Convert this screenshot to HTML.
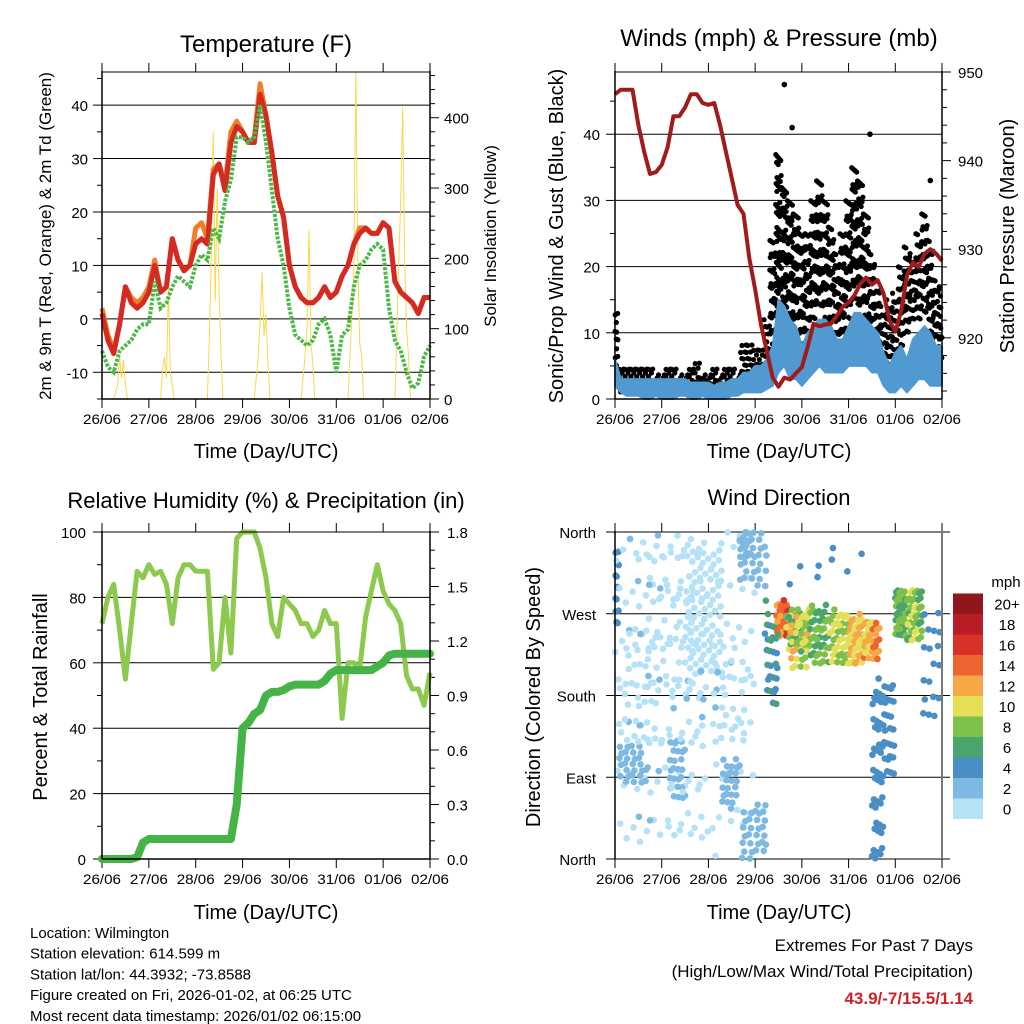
<!DOCTYPE html>
<html><head><meta charset="utf-8"><style>
html,body{margin:0;padding:0;background:#fff;}
svg{display:block;font-family:"Liberation Sans",sans-serif;}
</style></head><body>
<svg id="chart" width="1024" height="1024" viewBox="0 0 1024 1024" xmlns="http://www.w3.org/2000/svg"></svg>
<script>
// ---------- DATA (3-hourly samples, hours 0..168) ----------
const dayLabels = ["26/06","27/06","28/06","29/06","30/06","31/06","01/06","02/06"];
const tempRed = [1,-4,-6.5,-1,6,3,2,3, 5,10,5,6,15,11,9,10, 14,15,14,27,29,24,33,36, 35,33,33,42,38,31,23,19, 10,6,4,3,3,4,6,4, 5,8,10,14,16,17,16,16, 18,17,7,5,4,3,1,4,4];
const tempOrange = [2,-3,-6,-1,6,4,3,4, 6,11,5,6,15,11,9,10, 17,18,15,28,29,25,35,37, 35,33,34,44,38,31,23,19, 10,6,4,3,3,4,6,4, 5,8,10,14,17,17,16,16, 18,17,7,5,4,3,1,4,4];
const dewGreen = [-6,-9,-10,-6,-5,-4,-2,-1, -1,7,2,3,6,8,7,6, 10,12,11,17,15,22,26,34, 34,33,34,40,33,24,15,10, 2,-3,-4,-5,-4,-1,0,-3, -10,-3,-2,6,10,11,13,14, 13,2,-4,-6,-10,-13,-12,-7,-5];
const solarHours = [0,6,8,9,10,11,12,13, 30,31,32,33,34,35,36,37, 54,55,56,57,58,59,60,61,62, 78,80,81,82,83,84,85,86, 102,104,105,106,107,108,109, 126,128,129,130,131,132,133,134, 150,151,152,153,154,155,156,157,158,168];
const solarValues = [0,0,20,60,30,55,20,0, 0,40,60,30,160,40,20,0, 0,90,200,380,140,300,150,60,0, 0,60,110,180,90,120,50,0, 0,60,100,240,80,50,0, 0,120,190,465,200,80,60,0, 0,90,200,280,415,200,100,60,0,0];
const pressure = [947.5,948,948,948,944,941,938.5,938.7, 939.5,941.5,945,945,946,947.5,947.5,946.5, 946.3,946.5,944,941,938,935,934,929, 925.5,921.5,918.5,915.5,914.5,915.5,915.3,916, 916.7,919,921.6,921.3,921.5,921.6,922.5,923.5, 924,924.8,926.1,926.8,926,926.5,925,922, 920.7,923,927,928.5,928,929.5,930,929.5,928.7];
const windLo = [2,1,0.5,0.5,0.5,0,0,0.5, 0,0,0,0.5,0.5,0,0,0.5, 0,0,0,0,0.5,0.5,1,1, 1,1,1.5,2,4,5,3,3, 2,3,4,5,4,4,4,4, 5,5,5,5,4,4,2,1, 1,2,1,2,3,3,2,2,2];
const windHi = [6,3,3,3,3,3,3,3, 3,3,3,3,3,2.5,2.5,2.5, 2.5,2,2.5,2.5,3,3,4,4, 5,5,6,8,15,14,12,11, 8,10,11,12,12,11,9,9, 11,13,13,12,11,10,7,5, 7,8,6,9,10,11,10,8,8];
const gustLo = [5,1,1,1,1,1,1,1, 1,1,1,1,1,1,1,1, 1,1,1,1,1,1,2,2, 3,3,4,8,10,8,10,10, 8,10,12,14,12,10,8,8, 12,15,12,10,8,5,4,5, 6,8,10,12,12,13,10,6,6];
const gustHi = [14,5,5,5,5,5,5,4, 4,5,5,4,4,5,6,4, 4,5,4,5,5,4,9,9, 8,8,12,24,37,32,30,28, 25,25,30,33,30,26,22,25, 30,35,33,28,22,18,14,15, 16,20,23,22,25,28,24,18,17];
const gustOutlierH = [87,91,131,162];
const gustOutlierV = [47.5,41,40,33];
const rh = [72,80,84,70,55,72,88,86, 90,87,88,84,72,86,90,90, 88,88,88,58,60,80,63,98, 100,100,100,95,86,72,68,80, 78,76,72,72,68,70,76,72, 72,43,60,60,58,74,82,90, 82,78,76,72,56,52,52,47,57];
const precip = [0,0,0,0,0,0,0.01,0.09, 0.11,0.11,0.11,0.11,0.11,0.11,0.11,0.11, 0.11,0.11,0.11,0.11,0.11,0.11,0.11,0.3, 0.72,0.75,0.8,0.82,0.9,0.92,0.92,0.93, 0.95,0.96,0.96,0.96,0.96,0.96,0.98,1.02, 1.04,1.04,1.04,1.04,1.04,1.04,1.04,1.06, 1.08,1.12,1.13,1.13,1.13,1.13,1.13,1.13,1.13];
// wind direction clusters: hour start, hour end, dir low, dir high, speed, count
const dirH0 =  [0, 0, 2, 4, 24,28, 36,50, 55, 64, 64, 78, 83, 88, 90, 100,110,120,128,132,138,144,150,158, 72, 100, 64, 30, 2, 26, 50, 12];
const dirH1 =  [2, 24,16,24,48,36, 55,72, 64, 78, 78, 84, 90, 100,100,110,120,128,136,138,144,150,158,168, 96, 130, 70, 60, 22, 46, 70, 40];
const dirLo =  [250,0, 80, 0, 0, 60, 200,0, 55, 300,0, 170,245,230,210,215,215,215,220,0, 90, 245,240,150,200,300,330,150, 120, 0, 120, 180];
const dirHi =  [340,360,125,360,360,130,340,360,110,360,60, 270,285,275,275,280,275,270,265,200,200,300,300,280,330,345,360,220, 260, 360, 240, 340];
const dirSpd = [3, 0.5,2, 2, 0.5,2, 0.5,0.5,2, 2, 2, 5, 14, 8, 10, 7, 9, 11, 12, 3, 4, 7, 8, 4, 5, 4, 1, 1, 0.5, 0.5, 0.5, 0.5];
const dirCnt = [14, 50, 28, 16, 50, 26, 80, 40, 24, 30, 30, 26, 30, 40, 30, 40, 40, 40, 35, 45, 25, 40, 40, 18, 8, 6, 12, 10, 30, 30, 25, 30];
const speedBins = ["0","2","4","6","8","10","12","14","16","18","20+"];
const speedColors = ["#b5e2f6","#7db9e3","#4a8ec6","#4aa56c","#7dc04a","#e4df56","#f6a847","#ee6531","#d9302a","#b81c24","#8f161a"];

// ---------- helpers ----------
const NS="http://www.w3.org/2000/svg";
const svg=document.getElementById('chart');
function mk(tag,attrs,parent){const e=document.createElementNS(NS,tag);for(const k in attrs)e.setAttribute(k,attrs[k]);(parent||svg).appendChild(e);return e;}
function txt(s,x,y,size,anchor,parent,extra){const e=mk('text',Object.assign({x:x,y:y,'font-size':size,'text-anchor':anchor||'middle',fill:'#000'},extra||{}),parent);e.textContent=s;return e;}
const hours=tempRed.map((v,i)=>i*3);
function frac(x){return x-Math.floor(x);}

function makePanel(name,x0,x1,y0,y1){
  const g=mk('g',{});
  
  
  return {g,x0,x1,y0,y1,xs:h=>x0+(x1-x0)*h/168};
}
function yAxis(P,lo,hi,major,minor,side,fmt,labelX,grid,nameAx){
  const ys=v=>P.y1-(v-lo)/(hi-lo)*(P.y1-P.y0);
  const ag=mk('g',{},P.g);
  
  
  const xEdge=side==='left'?P.x0:P.x1, dir=side==='left'?-1:1;
  for(let v=Math.ceil(lo/minor-1e-9)*minor; v<=hi+1e-9; v+=minor){
    const y=ys(v); const isMaj=Math.abs(v/major-Math.round(v/major))<1e-6;
    mk('line',{x1:xEdge,x2:xEdge+dir*(isMaj?9:5),y1:y,y2:y,stroke:'#000','stroke-width':1},ag);
    if(isMaj){
      if(grid) mk('line',{x1:P.x0,x2:P.x1,y1:y,y2:y,stroke:'#000','stroke-width':1},ag);
      txt(fmt(v),labelX,y+6,15,side==='left'?'end':'start',ag);
    }
  }
  return ys;
}
function xAxis(P,labelY){
  const ag=mk('g',{},P.g);
  
  
  for(let d=0;d<=7;d++){
    const x=P.xs(d*24);
    mk('line',{x1:x,x2:x,y1:P.y1,y2:P.y1+9,stroke:'#000'},ag);
    mk('line',{x1:x,x2:x,y1:P.y0,y2:P.y0-9,stroke:'#000'},ag);
    txt(dayLabels[d],x,labelY,14,'middle',ag,{textLength:38,lengthAdjust:'spacingAndGlyphs'});
  }
}
function frame(P){
  mk('line',{x1:P.x0,x2:P.x0,y1:P.y0-1,y2:P.y1,stroke:'#000','stroke-width':1.5},P.g);
  mk('line',{x1:P.x1,x2:P.x1,y1:P.y0-1,y2:P.y1,stroke:'#000','stroke-width':1.5},P.g);
  mk('line',{x1:P.x0,x2:P.x1,y1:P.y1,y2:P.y1,stroke:'#000','stroke-width':1.5},P.g);
  mk('line',{x1:P.x0,x2:P.x1,y1:P.y0,y2:P.y0,stroke:'#000','stroke-width':1},P.g);
}
function pathOf(xsArr,ysArr){return xsArr.map((x,i)=>(i?'L':'M')+x.toFixed(1)+' '+ysArr[i].toFixed(1)).join(' ');}

// ---------- Panel 1: Temperature ----------
{
  const P=makePanel('temperature-panel',102,430,72,399);
  const ysT=yAxis(P,-15,46.2,10,5,'left',v=>String(v),88,true,'temperature-y-axis');
  const ysS=yAxis(P,0,465,100,20,'right',v=>String(v),444,false,'solar-y-axis');
  xAxis(P,424);
  const sol=mk('path',{d:pathOf(solarHours.map(P.xs),solarValues.map(ysS)),fill:'none',stroke:'#f7d84a','stroke-width':1},P.g);
  
  
  const o=mk('path',{d:pathOf(hours.map(P.xs),tempOrange.map(ysT)),fill:'none',stroke:'#f07f2b','stroke-width':5,'stroke-linejoin':'round'},P.g);
  
  
  const r=mk('path',{d:pathOf(hours.map(P.xs),tempRed.map(ysT)),fill:'none',stroke:'#d42a22','stroke-width':5,'stroke-linejoin':'round'},P.g);
  
  
  const gr=mk('path',{d:pathOf(hours.map(P.xs),dewGreen.map(ysT)),fill:'none',stroke:'#4db848','stroke-width':4,'stroke-dasharray':'3 1.5'},P.g);
  
  
  frame(P);
  const t=txt('Temperature (F)',266,52,24,'middle',P.g);
  
  
  const a=txt('Time (Day/UTC)',266,458,20,'middle',P.g);
  
  
  const l=txt('2m & 9m T (Red, Orange) & 2m Td (Green)',0,0,17,'middle',P.g,{transform:'translate(51,236) rotate(-90)'});
  
  
  const rr=txt('Solar Insolation (Yellow)',0,0,17,'middle',P.g,{transform:'translate(496,236) rotate(-90)'});
  
  
}

// ---------- Panel 2: Winds & Pressure ----------
{
  const P=makePanel('winds-pressure-panel',615,942,72,399);
  const ysW=yAxis(P,0,49.4,10,5,'left',v=>String(v),600,true,'wind-y-axis');
  const ysP=yAxis(P,913.1,950,10,2,'right',v=>String(v),958,false,'pressure-y-axis');
  xAxis(P,424);
  const gg=mk('g',{fill:'#000'},P.g);
  
  
  for(let i=0;i<gustLo.length;i++){
    const n=Math.max(8,Math.round((gustHi[i]-gustLo[i])*2.2));
    for(let k=0;k<n;k++){
      const h=hours[i]-1.5+3*frac(k*0.7548777+0.2);
      if(h<0||h>168)continue;
      const v=gustLo[i]+(gustHi[i]-gustLo[i])*frac(k*0.5698403+0.31);
      const c=mk('circle',{cx:P.xs(h),cy:ysW(v),r:2.6},gg);
      
      
    }
  }
  gustOutlierH.forEach((h,i)=>{
    const c=mk('circle',{cx:P.xs(h),cy:ysW(gustOutlierV[i]),r:2.8},gg);
    
    
  });
  const top=hours.map((h,i)=>[P.xs(h),ysW(windHi[i])]);
  const bot=hours.map((h,i)=>[P.xs(h),ysW(windLo[i])]).reverse();
  const pts=top.concat(bot).map(p=>p[0].toFixed(1)+','+p[1].toFixed(1)).join(' ');
  const wb=mk('polygon',{points:pts,fill:'#5199d1',stroke:'#5199d1','stroke-width':2,'stroke-linejoin':'round'},P.g);
  
  
  const pl=mk('path',{d:pathOf(hours.map(P.xs),pressure.map(ysP)),fill:'none',stroke:'#a01b1b','stroke-width':4,'stroke-linejoin':'round'},P.g);
  
  
  frame(P);
  const t=txt('Winds (mph) & Pressure (mb)',779,46,24,'middle',P.g);
  
  
  const a=txt('Time (Day/UTC)',779,458,20,'middle',P.g);
  
  
  const l=txt('Sonic/Prop Wind & Gust (Blue, Black)',0,0,20,'middle',P.g,{transform:'translate(563,236) rotate(-90)'});
  
  
  const rr=txt('Station Pressure (Maroon)',0,0,20,'middle',P.g,{transform:'translate(1014,236) rotate(-90)'});
  
  
}

// ---------- Panel 3: RH & Precip ----------
{
  const P=makePanel('humidity-precip-panel',102,430,532,859);
  const ysR=yAxis(P,0,100,20,10,'left',v=>String(v),86,true,'humidity-y-axis');
  const ysPr=yAxis(P,0,1.8,0.3,0.1,'right',v=>v.toFixed(1),447,false,'precip-y-axis');
  xAxis(P,884);
  const rl=mk('path',{d:pathOf(hours.map(P.xs),rh.map(ysR)),fill:'none',stroke:'#8ec94f','stroke-width':5,'stroke-linejoin':'round'},P.g);
  
  
  const pr=mk('path',{d:pathOf(hours.map(P.xs),precip.map(ysPr)),fill:'none',stroke:'#46b347','stroke-width':8,'stroke-linejoin':'round','stroke-linecap':'round'},P.g);
  
  
  frame(P);
  const t=txt('Relative Humidity (%) & Precipitation (in)',266,508,22,'middle',P.g);
  
  
  const a=txt('Time (Day/UTC)',266,919,20,'middle',P.g);
  
  
  const l=txt('Percent & Total Rainfall',0,0,20,'middle',P.g,{transform:'translate(47,697) rotate(-90)'});
  
  
}

// ---------- Panel 4: Wind direction ----------
{
  const P=makePanel('wind-direction-panel',615,942,532,859);
  const ys=d=>P.y1-d/360*(P.y1-P.y0);
  const ag=mk('g',{},P.g);
  
  
  const names=['North','East','South','West','North'];
  for(let i=0;i<5;i++){
    const y=ys(i*90);
    mk('line',{x1:606,x2:950,y1:y,y2:y,stroke:'#000'},ag);
    txt(names[i],596,y+6,15,'end',ag);
  }
  xAxis(P,884);
  const dg=mk('g',{},P.g);
  
  
  for(let c=0;c<dirH0.length;c++){
    for(let k=0;k<dirCnt[c];k++){
      const h=dirH0[c]+(dirH1[c]-dirH0[c])*frac(k*0.7548777+0.13+c*0.17);
      const d=dirLo[c]+(dirHi[c]-dirLo[c])*frac(k*0.5698403+0.41+c*0.29);
      const s=dirSpd[c]+(dirSpd[c]>4?(frac(k*0.381966)-0.5)*4:0);
      const bi=Math.max(0,Math.min(10,Math.round(s/2)));
      const pt=mk('circle',{cx:P.xs(h),cy:ys(d),r:3.3,fill:speedColors[bi]},dg);
      
      
    }
  }
  mk('line',{x1:P.x0,x2:P.x0,y1:P.y0-1,y2:P.y1,stroke:'#000','stroke-width':1.5},P.g);
  mk('line',{x1:P.x1,x2:P.x1,y1:P.y0-1,y2:P.y1,stroke:'#777','stroke-width':2},P.g);
  const cb=mk('g',{},P.g);
  
  
  for(let i=0;i<11;i++){
    const y=819-(i+1)*20.5;
    mk('rect',{x:953,y:y,width:30,height:20.5,fill:speedColors[i]},cb);
    txt(speedBins[i],1007,y+16,15,'middle',cb);
  }
  txt('mph',1006,587,15,'middle',cb);
  const t=txt('Wind Direction',779,505,22,'middle',P.g);
  
  
  const a=txt('Time (Day/UTC)',779,919,20,'middle',P.g);
  
  
  const l=txt('Direction (Colored By Speed)',0,0,20,'middle',P.g,{transform:'translate(540,697) rotate(-90)'});
  
  
}

// ---------- Footer ----------
const foot=["Location: Wilmington","Station elevation: 614.599 m","Station lat/lon: 44.3932; -73.8588","Figure created on Fri, 2026-01-02, at 06:25 UTC","Most recent data timestamp: 2026/01/02 06:15:00"];
foot.forEach((s,i)=>{
  const e=txt(s,30,938+i*20.7,15,'start');
  
  
});
{
  const e1=txt('Extremes For Past 7 Days',973,951,17,'end');
  
  
  const e2=txt('(High/Low/Max Wind/Total Precipitation)',973,977,17,'end');
  
  
  const e3=txt('43.9/-7/15.5/1.14',973,1004,17,'end',null,{fill:'#cc2229','font-weight':'bold'});
  
  
}
</script>
</body></html>
